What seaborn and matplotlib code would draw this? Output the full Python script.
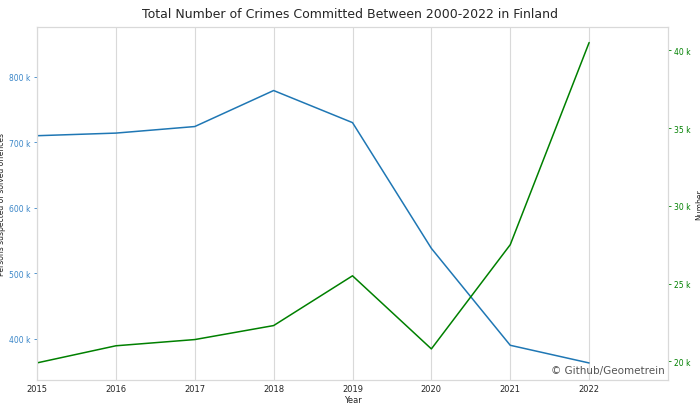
import matplotlib
matplotlib.use("Agg")
import matplotlib.pyplot as plt
import matplotlib.ticker as mt
import seaborn as sns
import pandas as pd

years = [2015, 2016, 2017, 2018, 2019, 2020, 2021, 2022]
persons = [710000, 714000, 724000, 779000, 730000, 538000, 390000, 363000]
number = [19900, 21000, 21400, 22300, 25500, 20800, 27500, 40500]

df = pd.DataFrame({"Year": years, "Persons": persons, "Number": number})

sns.set_theme(style="whitegrid")
plt.rcParams['font.family'] = ['DejaVu Sans']
fig = plt.figure(figsize=(7, 4.06), dpi=100)
ax = fig.add_axes([37/700, 1-381/406, (668-37)/700, (381-28)/406])
sns.lineplot(data=df, x="Year", y="Persons", ax=ax, color="#1f77b4", linewidth=1.1)
ax2 = ax.twinx()
sns.lineplot(data=df, x="Year", y="Number", ax=ax2, color="green", linewidth=1.1)

ax.set_xlim(2015, 2023)
ax.set_ylim(337000, 876000)
ax2.set_ylim(18800, 41500)
ax.set_xticks(years)
ax.grid(axis="y", visible=False)
ax.grid(axis="x", color="#d9d9d9", linewidth=0.8)
ax2.grid(False)
fmt = mt.FuncFormatter(lambda v, p: f"{v/1000:.0f} k")
ax.yaxis.set_major_formatter(fmt)
ax2.yaxis.set_major_formatter(fmt)
ax2.set_yticks([20000, 25000, 30000, 35000, 40000])
ax.set_yticks([400000, 500000, 600000, 700000, 800000])
ax.tick_params(axis="y", colors="#3a86c8", labelsize=5.5, length=2.5, width=0.6, left=True, pad=2)
ax.tick_params(axis="x", labelsize=6, length=0, pad=3)
ax2.tick_params(axis="y", colors="green", labelsize=5.5, length=2.5, width=0.6, right=True, pad=2)
for a in (ax, ax2):
    for s in a.spines.values():
        s.set_color("#d9d9d9")
        s.set_linewidth(0.8)
ax.set_xlabel("Year", fontsize=6, labelpad=1)
ax.set_ylabel("Persons suspected of solved offences", fontsize=5.5, labelpad=2)
ax2.set_ylabel("Number", fontsize=5.5, labelpad=3)
fig.suptitle("Total Number of Crimes Committed Between 2000-2022 in Finland", fontsize=9, y=0.98)
ax.text(0.995, 0.015, "© Github/Geometrein", transform=ax.transAxes, ha="right", va="bottom",
        fontsize=7.5, color="#555555")
fig.savefig("out.png", dpi=100)
